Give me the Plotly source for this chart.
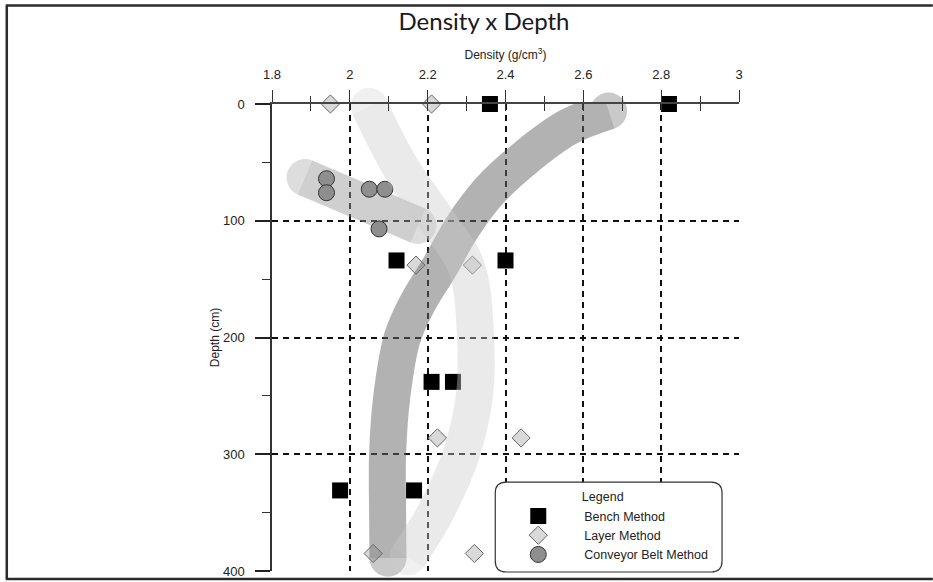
import plotly.graph_objects as go

# ---------------- data ----------------
bench_x = [2.36, 2.82, 2.12, 2.40, 2.21, 2.265, 1.975, 2.165]
bench_y = [0, 0, 134, 134, 238, 238, 331, 331]

layer_x = [1.95, 2.21, 2.17, 2.315, 2.225, 2.44, 2.06, 2.32]
layer_y = [0, 0, 138, 138, 286, 286, 385, 385]

conv_x = [1.94, 1.94, 2.05, 2.09, 2.075]
conv_y = [64, 76, 73, 73, 107]

# hand-drawn trend bands (density, depth)
bench_trend_x = [2.665, 2.56, 2.455, 2.36, 2.29, 2.23, 2.175, 2.135, 2.108, 2.097, 2.097, 2.098]
bench_trend_y = [6, 20, 45, 74, 105, 140, 170, 200, 250, 300, 350, 389]
layer_trend_x = [2.05, 2.13, 2.225, 2.30, 2.323, 2.32, 2.286, 2.22, 2.15]
layer_trend_y = [2, 54, 100, 140, 200, 250, 300, 350, 388]
conv_trend_x = [1.885, 2.175]
conv_trend_y = [63, 104]

x_ticks = [1.8, 2.0, 2.2, 2.4, 2.6, 2.8, 3.0]
x_tick_text = ["1.8", "2", "2.2", "2.4", "2.6", "2.8", "3"]
y_ticks = [0, 100, 200, 300, 400]

# ---------------- layout geometry ----------------
W, H = 933, 582
L, R, T, B = 271.5, 194, 103.5, 11
PW, PH = W - L - R, H - T - B


def px_x(px):
    return (px - L) / PW


def px_y(py):
    return 1 - (py - T) / PH


BW = 37  # band width in px
FONT = "Liberation Sans, Arial, sans-serif"


def band(xs, ys, color, op):
    n = len(xs)
    sizes = [BW] + [0] * (n - 2) + [BW]
    return go.Scatter(
        x=xs, y=ys, mode="lines+markers",
        line=dict(color=color, width=BW, shape="spline", smoothing=1),
        marker=dict(size=sizes, color=color, line=dict(width=0)),
        opacity=op, cliponaxis=False, showlegend=False, hoverinfo="skip",
    )


fig = go.Figure()

fig.add_trace(band(conv_trend_x, conv_trend_y, "rgb(150,150,150)", 0.45))

fig.add_trace(go.Scatter(
    x=bench_x, y=bench_y, mode="markers", name="Bench Method",
    marker=dict(symbol="square", size=16, color="black", line=dict(width=0)),
    cliponaxis=False,
))
fig.add_trace(go.Scatter(
    x=layer_x, y=layer_y, mode="markers", name="Layer Method",
    marker=dict(symbol="diamond", size=14, color="#d9d9d9", line=dict(width=1, color="#666")),
    cliponaxis=False,
))
fig.add_trace(go.Scatter(
    x=conv_x, y=conv_y, mode="markers", name="Conveyor Belt Method",
    marker=dict(symbol="circle", size=16, color="#8e8e8e", line=dict(width=1, color="#333")),
    cliponaxis=False,
))

fig.add_trace(band(bench_trend_x, bench_trend_y, "rgb(104,104,104)", 0.5))
fig.add_trace(band(layer_trend_x, layer_trend_y, "rgb(205,205,205)", 0.4))

# overlay axis to make the top ticks cross the axis line
fig.add_trace(go.Scatter(x=[1.8], y=[0], xaxis="x2", mode="markers",
                         marker=dict(size=1, opacity=0), showlegend=False, hoverinfo="skip"))

frame = []
# outer frame (top, left, bottom)
for (x0, y0, x1, y1) in [(5, 5, 933, 5), (6, 5, 6, 579), (5, 579, 933, 579)]:
    frame.append(dict(type="line", xref="paper", yref="paper",
                      x0=px_x(x0), y0=px_y(y0), x1=px_x(x1), y1=px_y(y1),
                      line=dict(color="#2b2b2b", width=2.5), layer="above"))

# rounded legend box
bx0, by0, bx1, by1, rr = 495, 482, 722, 572, 11
path = (f"M {px_x(bx0 + rr)} {px_y(by0)} L {px_x(bx1 - rr)} {px_y(by0)} "
        f"Q {px_x(bx1)} {px_y(by0)} {px_x(bx1)} {px_y(by0 + rr)} "
        f"L {px_x(bx1)} {px_y(by1 - rr)} Q {px_x(bx1)} {px_y(by1)} {px_x(bx1 - rr)} {px_y(by1)} "
        f"L {px_x(bx0 + rr)} {px_y(by1)} Q {px_x(bx0)} {px_y(by1)} {px_x(bx0)} {px_y(by1 - rr)} "
        f"L {px_x(bx0)} {px_y(by0 + rr)} Q {px_x(bx0)} {px_y(by0)} {px_x(bx0 + rr)} {px_y(by0)} Z")
frame.append(dict(type="path", xref="paper", yref="paper", path=path,
                  fillcolor="white", line=dict(color="#333", width=1.2), layer="above"))

fig.update_layout(
    width=W, height=H,
    margin=dict(l=L, r=R, t=T, b=B, pad=0, autoexpand=False),
    paper_bgcolor="white", plot_bgcolor="white",
    font=dict(family=FONT, size=13, color="#222"),
    title=dict(text="Density x Depth", x=484 / W, xref="container", xanchor="center",
               y=1 - 22 / H, yanchor="middle", yref="container",
               font=dict(family="Lato, sans-serif", size=24, color="#1a1a1a")),
    xaxis=dict(
        side="top", range=[1.8, 3.0], tickvals=x_ticks, ticktext=x_tick_text,
        ticks="outside", ticklen=12, tickwidth=1.2, tickcolor="#333",
        minor=dict(dtick=0.1, tick0=1.8, ticks="outside", ticklen=6, tickwidth=1.2, tickcolor="#333", showgrid=False),
        showline=True, linecolor="#444", linewidth=1.5,
        showgrid=True, gridcolor="#111", griddash="6px,5px", gridwidth=1.5,
        zeroline=False, automargin=False, ticklabelstandoff=6,
        title=dict(text="Density (g/cm<sup>3</sup>)", standoff=5, font=dict(size=12)),
        tickfont=dict(size=13),
    ),
    xaxis2=dict(
        overlaying="x", side="top", anchor="y", range=[1.8, 3.0], dtick=0.1, tick0=1.8,
        ticks="inside", ticklen=7, tickwidth=1.2, tickcolor="#333", automargin=False,
        showticklabels=False, showgrid=False, showline=False, zeroline=False,
    ),
    yaxis=dict(
        range=[400, 0], tickvals=y_ticks,
        ticks="outside", ticklen=15, tickwidth=1.5, tickcolor="#222",
        minor=dict(dtick=50, tick0=0, ticks="outside", ticklen=8, tickwidth=1.2, tickcolor="#333", showgrid=False),
        showline=True, linecolor="#333", linewidth=1.5,
        showgrid=True, gridcolor="#111", griddash="6px,5px", gridwidth=1.5,
        zeroline=False, ticklabelstandoff=8, automargin=False,
        title=dict(text="Depth (cm)", standoff=1, font=dict(size=12)),
        tickfont=dict(size=13),
    ),
    legend=dict(
        x=px_x(492), y=px_y(485), xanchor="left", yanchor="top",
        bgcolor="rgba(0,0,0,0)", borderwidth=0,
        font=dict(family=FONT, size=12.5, color="#222"),
        title=dict(text="Legend", side="top center", font=dict(family=FONT, size=12.5, color="#222")),
        itemwidth=82, tracegroupgap=0,
    ),
    shapes=frame,
)

# the page's default 8px body margin would shift the figure; remove it
fig.write_html("out.html", config={"displayModeBar": False},
               post_script="document.body.style.margin='0px';")
